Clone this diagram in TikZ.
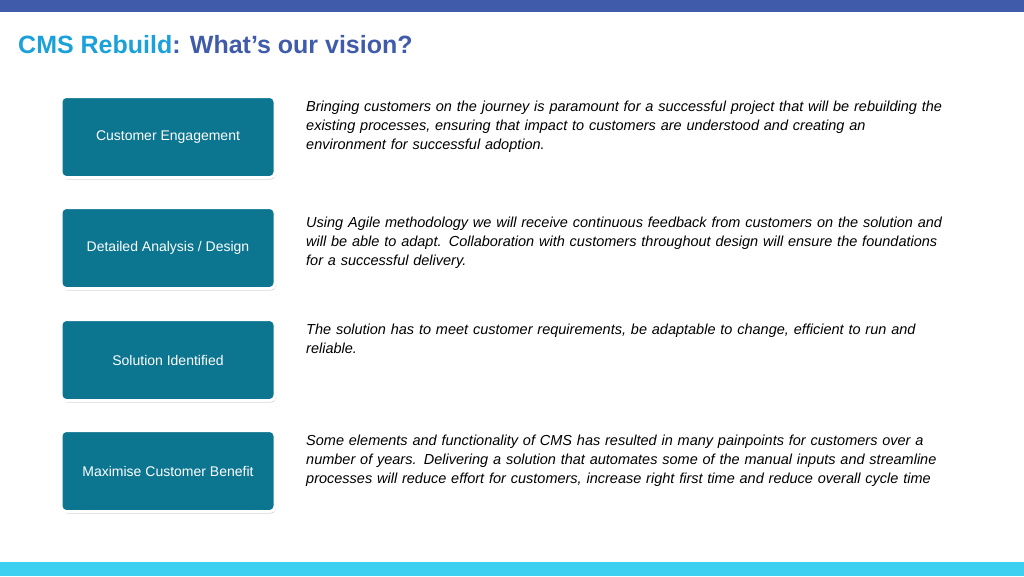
\documentclass[tikz,border=0pt]{standalone}
\usepackage{fontspec}
\setmainfont{Liberation Sans}
\usetikzlibrary{positioning, shadows}
\definecolor{topblue}{HTML}{3F5BA9}
\definecolor{cmscyan}{HTML}{1BA1D9}
\definecolor{barcyan}{HTML}{3DD0F0}
\definecolor{boxteal}{HTML}{0C7590}
\tikzset{
  stepbox/.style={draw=white, line width=3pt, fill=boxteal, rounded corners=5pt,
    minimum width=214pt, minimum height=81pt, text=white, font=\fontsize{14}{16}\selectfont,
    drop shadow={shadow xshift=1pt, shadow yshift=-2pt, opacity=0.35}},
  desc/.style={anchor=north west, align=left, text width=690pt, inner sep=0pt,
    font=\fontsize{14.5}{19}\selectfont\itshape}
}
\begin{document}
\begin{tikzpicture}[x=1pt, y=-1pt]
        \useasboundingbox (0,0) rectangle (1024,576);
        \fill[topblue] (0,0) rectangle (1024,12);
        \fill[barcyan] (0,562) rectangle (1024,576);
        \node[anchor=base west, inner sep=0pt, font=\fontsize{25}{28}\selectfont\bfseries] (title) at (18,53)
            {\textcolor{cmscyan}{CMS Rebuild}\textcolor{topblue}{: What’s our vision?}};

        \node[stepbox] (B1) at (168,137) {Customer Engagement};
        \node[stepbox] (B2) at (168,248) {Detailed Analysis / Design};
        \node[stepbox] (B3) at (168,360) {Solution Identified};
        \node[stepbox] (B4) at (168,471) {Maximise Customer Benefit};

        \node[desc] (T1) at (306,101) {Bringing customers on the journey is paramount for a successful project that will be rebuilding the\\existing processes, ensuring that impact to customers are understood and creating an\\environment for successful adoption.};
        \node[desc] (T2) at (306,217) {Using Agile methodology we will receive continuous feedback from customers on the solution and\\will be able to adapt. Collaboration with customers throughout design will ensure the foundations\\for a successful delivery.};
        \node[desc] (T3) at (306,324) {The solution has to meet customer requirements, be adaptable to change, efficient to run and\\reliable.};
        \node[desc] (T4) at (306,435) {Some elements and functionality of CMS has resulted in many painpoints for customers over a\\number of years. Delivering a solution that automates some of the manual inputs and streamline\\processes will reduce effort for customers, increase right first time and reduce overall cycle time};
\end{tikzpicture}
\end{document}
